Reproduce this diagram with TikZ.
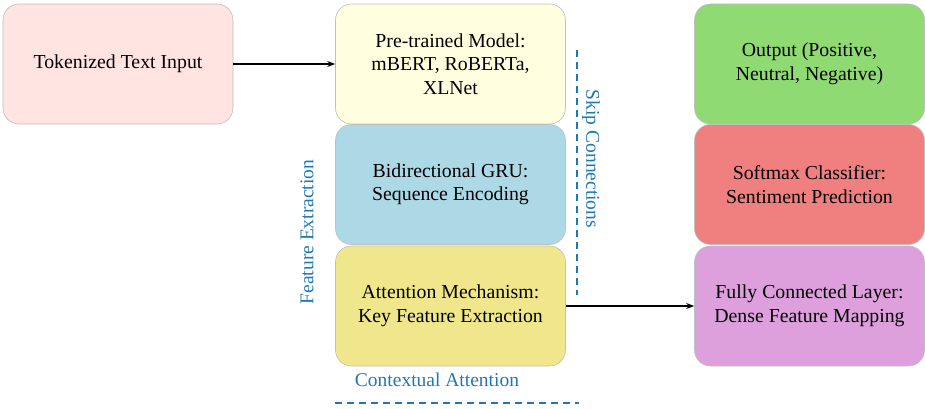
\documentclass[tikz,border=0pt]{standalone}
\usepackage{fontspec}
\setmainfont{Liberation Serif}
\usetikzlibrary{arrows.meta}
\definecolor{cpink}{HTML}{FFE4E1}
\definecolor{cyel}{HTML}{FFFFE0}
\definecolor{cblue}{HTML}{ADD8E6}
\definecolor{ckhaki}{HTML}{F0E68C}
\definecolor{cgreen}{HTML}{90DA74}
\definecolor{ccoral}{HTML}{F08080}
\definecolor{cplum}{HTML}{DDA0DD}
\definecolor{clabel}{HTML}{1F77B4}
\begin{document}
\begin{tikzpicture}[x=1pt,y=-1pt,
  box/.style={draw=black!25, line width=0.6pt, rounded corners=16pt, minimum width=230pt, minimum height=120pt, align=center, inner sep=0pt, font=\fontsize{19.8}{23.5}\selectfont},
  lab/.style={text=clabel, font=\fontsize{19.5}{22}\selectfont, inner sep=0pt},
  dline/.style={draw=clabel, line width=1.8pt, dash pattern=on 7pt off 5pt},
  arr/.style={-{Stealth[length=8pt,width=6pt]}, line width=1.3pt}]
\useasboundingbox (0,0) rectangle (925,409);
\node[box, fill=cpink] (tok) at (118,64) {Tokenized Text Input};
\node[box, fill=cyel] (pre) at (450.5,64) {Pre-trained Model:\\mBERT, RoBERTa,\\XLNet};
\node[box, fill=cblue] (gru) at (450.5,184.5) {Bidirectional GRU:\\Sequence Encoding};
\node[box, fill=ckhaki] (att) at (450.5,306) {Attention Mechanism:\\Key Feature Extraction};
\node[box, fill=cgreen] (out) at (809.5,64) {Output (Positive,\\Neutral, Negative)};
\node[box, fill=ccoral] (soft) at (809.5,184.5) {Softmax Classifier:\\Sentiment Prediction};
\node[box, fill=cplum] (fc) at (809.5,306) {Fully Connected Layer:\\Dense Feature Mapping};
\draw[arr] (tok.east) -- (pre.west);
\draw[arr] (att.east) -- (fc.west);
\coordinate (s1) at (577,50);
\coordinate (s2) at (577,295);
\draw[dline] (s1) -- (s2);
\node[lab, rotate=-90] (skip) at (591,159) {Skip Connections};
\node[lab, rotate=90] (feat) at (307,232) {Feature Extraction};
\node[lab] (ctx) at (437,380) {Contextual Attention};
\coordinate (b1) at (335,403);
\coordinate (b2) at (579,403);
\draw[dline] (b1) -- (b2);
\end{tikzpicture}
\end{document}
